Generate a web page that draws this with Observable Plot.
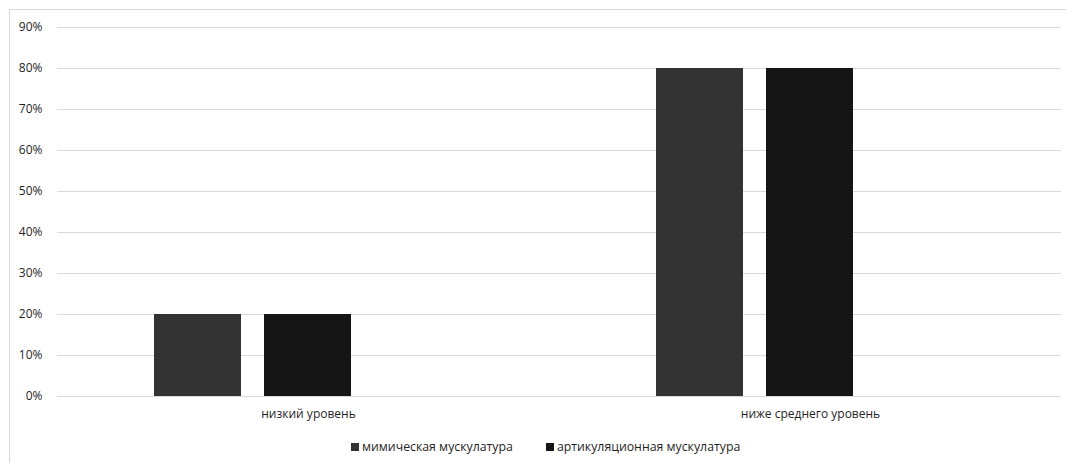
<!DOCTYPE html>
<html>
<head>
<meta charset="utf-8">
<script src="https://cdn.jsdelivr.net/npm/d3@7"></script>
<script src="https://cdn.jsdelivr.net/npm/@observablehq/plot@0.6"></script>
<style>
  html, body { margin: 0; padding: 0; background: #fff; }
  #wrap { position: relative; width: 1066px; height: 463px; overflow: hidden; font-family: "Open Sans", sans-serif; }
  #frame { position: absolute; left: 9px; top: 9px; width: 1080px; height: 480px; border: 1px solid #d9d9d9; box-sizing: border-box; }
  #chart { position: absolute; left: 0; top: 0; }
  #legend { position: absolute; left: 351px; top: 437px; display: flex; gap: 33px; font-size: 12.3px; line-height: 20px; color: #1f1f1f; white-space: nowrap; }
  .item { display: flex; align-items: center; }
  .sw { width: 8px; height: 8px; margin-right: 3px; display: inline-block; }
</style>
</head>
<body>
<div id="wrap">
  <div id="frame"></div>
  <div id="chart"></div>
  <div id="legend"></div>
</div>
<script>
const categories = ["низкий уровень", "ниже среднего уровень"];
const seriesNames = ["мимическая мускулатура", "артикуляционная мускулатура"];
const seriesSlots = ["мимическая мускулатура", "артикуляционная мускулатура", "Ряд 3"];
const mimic = [0.2, 0.8];
const artic = [0.2, 0.8];
const yTicks = [0, 0.1, 0.2, 0.3, 0.4, 0.5, 0.6, 0.7, 0.8, 0.9];
const colors = ["#333333", "#151515"];

const table = [];
categories.forEach((c, i) => {
  table.push({category: c, series: seriesNames[0], value: mimic[i]});
  table.push({category: c, series: seriesNames[1], value: artic[i]});
});

const chart = Plot.plot({
  width: 1066,
  height: 425,
  marginLeft: 57,
  marginRight: 5,
  marginTop: 27,
  marginBottom: 29,
  style: {fontFamily: "Open Sans, sans-serif", fontSize: "12px", color: "#1f1f1f", background: "transparent"},
  fx: {domain: categories, padding: 0, label: null, axis: null},
  x: {domain: seriesSlots, axis: null, paddingInner: 0.207, paddingOuter: 0.865},
  y: {domain: [0, 0.9], label: null, axis: null},
  color: {domain: seriesNames, range: colors},
  marks: [
    Plot.gridY(yTicks, {stroke: "#d9d9d9", strokeOpacity: 1, strokeWidth: 1}),
    Plot.axisY(yTicks, {tickFormat: d3.format(".0%"), tickSize: 0, tickPadding: 15, label: null, fill: "#1f1f1f"}),
    Plot.axisFx({anchor: "bottom", tickSize: 0, tickPadding: 13, label: null, fill: "#1f1f1f"}),
    Plot.barY(table, {fx: "category", x: "series", y: "value", fill: "series"})
  ]
});
document.getElementById("chart").appendChild(chart);

const legend = document.getElementById("legend");
seriesNames.forEach((s, i) => {
  const item = document.createElement("div");
  item.className = "item";
  const sw = document.createElement("span");
  sw.className = "sw";
  sw.style.background = colors[i];
  const t = document.createElement("span");
  t.textContent = s;
  item.appendChild(sw);
  item.appendChild(t);
  legend.appendChild(item);
});
</script>
</body>
</html>
